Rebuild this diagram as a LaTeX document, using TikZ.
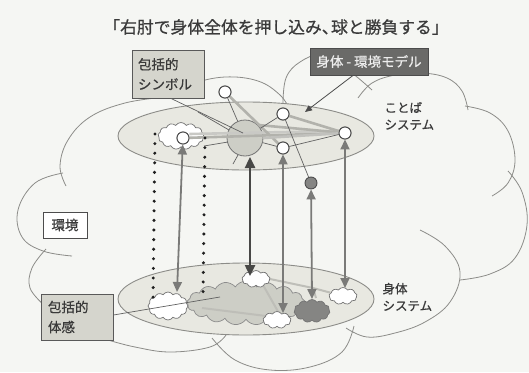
\documentclass[tikz,border=0pt]{standalone}
\usepackage{fontspec}
\setmainfont{Noto Sans CJK JP}[FakeBold=0.7]
\usetikzlibrary{arrows.meta,shapes.symbols,shapes.geometric}
\definecolor{bg}{HTML}{F5F6F3}
\definecolor{cl}{HTML}{8C8C88}
\definecolor{ell}{HTML}{E8E8E1}
\definecolor{lgbox}{HTML}{D5D5CD}
\definecolor{dkbox}{HTML}{6A6A68}
\definecolor{arr}{HTML}{7A7A78}
\definecolor{arrdk}{HTML}{484846}
\definecolor{band}{HTML}{B2B2AC}
\definecolor{txt}{HTML}{3A3A3A}
\definecolor{bigc}{HTML}{CDCEC6}
\definecolor{dkc}{HTML}{858583}
\tikzset{
  cloudline/.style={draw=cl, line width=0.8pt},
  sysell/.style={draw=cl, fill=ell, line width=0.9pt},
  wcirc/.style={circle, draw=black!70, fill=white, line width=0.9pt, minimum size=12pt, inner sep=0pt},
  puff/.style={cloud, cloud puffs=11, cloud puff arc=115, cloud ignores aspect, draw=black!55, fill=white, line width=0.7pt, inner sep=0pt},
  thinline/.style={draw=black!62, line width=0.7pt},
  bandline/.style={draw=band, line width=2.6pt},
  varrow/.style={draw=arr, line width=1.8pt, {Triangle[length=10pt,width=9pt]}-{Triangle[length=10pt,width=9pt]}},
  varrowdk/.style={draw=arrdk, line width=2.4pt, {Triangle[length=11pt,width=10pt]}-{Triangle[length=11pt,width=10pt]}},
  dotline/.style={draw=black!88, line width=3.4pt, line cap=round, dash pattern=on 0pt off 9.6pt},
  lbl/.style={font=\fontsize{12.5}{18}\selectfont, text=txt},
  boxfont/.style={font=\fontsize{13.5}{20}\selectfont, text=txt},
  lightbox/.style={boxfont, draw=black!65, fill=lgbox, line width=0.9pt, inner sep=0pt, align=left},
}
\begin{document}
\begin{tikzpicture}[x=1pt, y=-1pt]
\useasboundingbox (0,0) rectangle (529,372);
\fill[bg] (0,0) rectangle (529,372);

% title
\node[font=\fontsize{16.8}{20}\selectfont, text=txt] (title) at (276,27) {「右肘で身体全体を押し込み、\hspace{-0.45em}球と勝負する」};

% outer environment cloud
\draw[cloudline] plot[smooth, tension=0.65] coordinates {(66,186) (60,166) (68,140) (90,117) (125,103) (165,97)};
\draw[cloudline] plot[smooth, tension=0.65] coordinates {(160,95) (190,84) (225,77) (258,81) (280,95) (290,110)};
\draw[cloudline] plot[smooth, tension=0.65] coordinates {(283,104) (286,78) (300,62) (322,55) (348,70) (372,90)};
\draw[cloudline] plot[smooth, tension=0.65] coordinates {(358,98) (372,83) (395,75) (422,73) (447,78) (462,91) (468,110)};
\draw[cloudline] plot[smooth, tension=0.65] coordinates {(465,106) (490,113) (508,131) (515,160) (508,183) (492,196)};
\draw[cloudline] plot[smooth, tension=0.65] coordinates {(508,171) (522,192) (527,225) (515,258) (490,274) (460,280)};
\draw[cloudline] plot[smooth, tension=0.65] coordinates {(420,230) (445,246) (460,272) (450,302) (425,322) (395,333) (367,337) (346,328)};
\draw[cloudline] plot[smooth, tension=0.65] coordinates {(354,326) (342,352) (310,367) (270,370) (235,360) (212,338)};
\draw[cloudline] plot[smooth, tension=0.65] coordinates {(226,335) (210,347) (170,352) (135,347) (108,340)};
\draw[cloudline] plot[smooth, tension=0.65] coordinates {(63,173) (35,183) (18,210) (22,237) (43,251) (72,256)};
\draw[cloudline] plot[smooth, tension=0.65] coordinates {(46,249) (32,268) (30,288) (44,305)};

% system ellipses
\node[sysell, ellipse, minimum width=256pt, minimum height=68pt, inner sep=0pt] (kotoba) at (246,136) {};
\node[sysell, ellipse, minimum width=256pt, minimum height=72pt, inner sep=0pt] (shintai) at (246,299) {};

% ---------- upper (kotoba) system ----------
\node[puff, cloud puffs=13, minimum width=46pt, minimum height=27pt] (ucl) at (181,136) {};
\node[circle, draw=black!55, fill=bigc, line width=0.8pt, minimum size=36pt, inner sep=0pt] (BC) at (245,138) {};
\node[wcirc] (S) at (183,138) {};
\node[wcirc] (A) at (225,92) {};
\node[wcirc] (B) at (283,114) {};
\node[wcirc] (C) at (283,148) {};
\node[wcirc] (D) at (345,133) {};
\node[circle, draw=black!70, fill=dkc, line width=0.9pt, minimum size=12pt, inner sep=0pt] (E) at (311,183) {};

\coordinate (sp1) at (198,112);
\coordinate (sp1e) at (229,130);
\coordinate (sp2) at (204,146);
\coordinate (sp2e) at (228,142);
\coordinate (sp3) at (233,164);
\coordinate (sp3e) at (238,155);
\coordinate (bcin) at (243,133);

% band lines
\draw[bandline] (S) -- (D);
\draw[bandline, draw=band!70] ([yshift=4pt]S.east) -- ([yshift=2pt]D.west);
\draw[bandline] (A) -- (C);
\draw[bandline] (B) -- (D);
\draw[bandline] (BC.north east) -- (D);
\draw[bandline, draw=band!80] (BC.east) -- (D);
\draw[thinline] (A) -- (BC);
\draw[thinline] (B) -- (BC);
\draw[thinline] (C) -- (BC);
\draw[thinline] (C) -- (D);
\draw[thinline] (B) -- (E);
\draw[thinline] (sp1) -- (sp1e);
\draw[thinline] (sp2) -- (sp2e);
\draw[thinline] (sp3) -- (sp3e);
% redraw circles on top of lines
\node[wcirc] at (S) {};
\node[wcirc] at (A) {};
\node[wcirc] at (B) {};
\node[wcirc] at (C) {};
\node[wcirc] at (D) {};

% ---------- lower (shintai) system ----------
\node[puff, cloud puffs=17, draw=black!45, fill=bigc, minimum width=118pt, minimum height=44pt] (big) at (246,303) {};
\coordinate (l1a) at (263,285);
\coordinate (l1b) at (280,315);
\coordinate (l2a) at (270,279);
\coordinate (l2b) at (313,288);
\coordinate (l2c) at (316,298);
\coordinate (l3a) at (202,308);
\coordinate (l3b) at (274,317);
\draw[bandline, draw=band!85, line width=2pt] (l1a) -- (l1b);
\draw[bandline, draw=band!85, line width=2pt] (l2a) -- (l2b) -- (l2c);
\draw[bandline, draw=band!85, line width=2pt] (l3a) -- (l3b);
\node[puff, cloud puffs=12, minimum width=40pt, minimum height=28pt] (lc) at (168,306) {};
\node[puff, cloud puffs=9, minimum width=28pt, minimum height=17pt] (tc) at (256,279) {};
\node[puff, cloud puffs=9, minimum width=28pt, minimum height=17pt] (bc) at (277,320) {};
\node[puff, cloud puffs=11, fill=dkc, draw=black!55, minimum width=36pt, minimum height=23pt] (dc) at (312,311) {};
\node[puff, cloud puffs=9, minimum width=28pt, minimum height=17pt] (rc) at (343,296) {};
\draw[bandline, draw=band!85, line width=2pt] (rc) -- (l2b);

% dotted connections
\coordinate (d1t) at (155,134);
\coordinate (d1b) at (153,300);
\coordinate (d2t) at (205,138);
\coordinate (d2b) at (203,298);
\draw[dotline] (d1t) -- (d1b);
\draw[dotline] (d2t) -- (d2b);

% vertical arrows
\coordinate (a1b) at (177,292);
\coordinate (a2t) at (250,157);
\coordinate (a2b) at (250,276);
\coordinate (a3b) at (283,313);
\coordinate (a4b) at (312,299);
\coordinate (a5b) at (345,288);
\draw[varrow] (S) -- (a1b);
\draw[varrowdk] (a2t) -- (a2b);
\draw[varrow] (C) -- (a3b);
\draw[varrow] (E) -- (a4b);
\draw[varrow] (D) -- (a5b);

% ---------- labels ----------
\node[lightbox, minimum width=72pt, minimum height=48pt, text width=60pt] (symbox) at (168,74) {包括的\\シンボル};
\draw[thinline] ([xshift=3pt]symbox.south) -- (bcin);

\node[boxfont, draw=black!70, fill=dkbox, text=white!93!black, minimum width=118pt, minimum height=27pt, inner sep=0pt, line width=0.9pt] (envbox) at (369,61.5) {身体 - 環境モデル};
\coordinate (envtip) at (305,112);
\draw[draw=black!70, line width=0.8pt, -{Triangle[length=7pt,width=6pt]}] ([xshift=-16pt]envbox.south) -- (envtip);

\node[boxfont, draw=black!70, fill=white, minimum width=44pt, minimum height=26pt, inner sep=0pt, line width=0.9pt] (kankyo) at (65,225) {環境};

\node[lightbox, minimum width=72pt, minimum height=46pt, text width=58pt] (taikanbox) at (77,317) {包括的\\体感};
\coordinate (taikantip) at (220,297);
\draw[thinline] ([yshift=2pt]taikanbox.east) -- (taikantip);

\node[lbl, anchor=west, align=left, font=\fontsize{12.5}{17}\selectfont] (kotobalbl) at (381,116) {ことば\\システム};
\node[lbl, anchor=west, align=left, font=\fontsize{12.5}{17}\selectfont] (shintailbl) at (379,297) {身体\\システム};
\end{tikzpicture}
\end{document}
